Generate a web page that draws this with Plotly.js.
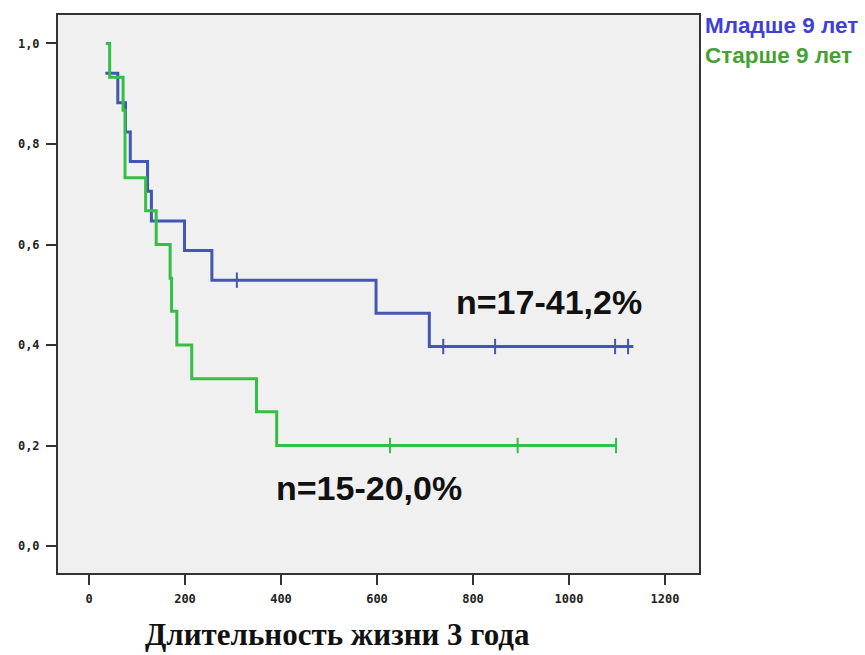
<!DOCTYPE html>
<html>
<head>
<meta charset="utf-8">
<script src="https://cdn.plot.ly/plotly-3.0.1.min.js"></script>
<style>html,body{margin:0;padding:0;background:#fff;}#chart{width:865px;height:655px;}</style>
</head>
<body>
<div id="chart"></div>
<script>
// Kaplan-Meier step data (time in days, survival fraction)
var youngName = "Младше 9 лет";
var youngTimes = [34, 60, 76, 86, 122, 130, 199, 256, 598, 709, 1134];
var youngSurv  = [0.941, 0.882, 0.824, 0.765, 0.706, 0.647, 0.588, 0.529, 0.463, 0.397, 0.397];
var youngCensored = [308, 738, 846, 1096, 1123];

var oldName = "Старше 9 лет";
var oldTimes = [35, 43, 71, 75, 118, 140, 169, 172, 183, 214, 349, 391, 1098];
var oldSurv  = [1.0, 0.933, 0.867, 0.733, 0.667, 0.6, 0.533, 0.467, 0.4, 0.333, 0.267, 0.2, 0.2];
var oldCensored = [627, 893, 1098];

var youngLabel = "n=17-41,2%";
var oldLabel = "n=15-20,0%";
var xTitle = "Длительность жизни 3 года";

var xTickVals = [0, 200, 400, 600, 800, 1000, 1200];
var xTickText = ["0", "200", "400", "600", "800", "1000", "1200"];
var yTickVals = [0, 0.2, 0.4, 0.6, 0.8, 1.0];
var yTickText = ["0,0", "0,2", "0,4", "0,6", "0,8", "1,0"];

function survAt(times, surv, t) {
  var s = surv[0];
  for (var i = 0; i < times.length; i++) { if (times[i] <= t) s = surv[i]; }
  return s;
}

var blue = "rgb(66,86,178)";
var green = "rgb(52,190,70)";

var traces = [
  {x: youngTimes, y: youngSurv, type: "scatter", mode: "lines", line: {shape: "hv", color: blue, width: 3}, name: youngName, hoverinfo: "skip"},
  {x: oldTimes, y: oldSurv, type: "scatter", mode: "lines", line: {shape: "hv", color: green, width: 3}, name: oldName, hoverinfo: "skip"},
  {x: youngCensored, y: youngCensored.map(function(t){return survAt(youngTimes, youngSurv, t);}), type: "scatter", mode: "markers",
   marker: {symbol: "line-ns", size: 11, line: {color: blue, width: 2}}, hoverinfo: "skip"},
  {x: oldCensored, y: oldCensored.map(function(t){return survAt(oldTimes, oldSurv, t);}), type: "scatter", mode: "markers",
   marker: {symbol: "line-ns", size: 11, line: {color: green, width: 2}}, hoverinfo: "skip"}
];

var tickFont = {family: "DejaVu Sans Mono", size: 12, color: "#222", weight: "bold"};

var layout = {
  width: 865, height: 655,
  margin: {l: 58, r: 166, t: 15, b: 82},
  paper_bgcolor: "#ffffff",
  plot_bgcolor: "#f0f0f0",
  showlegend: false,
  hovermode: false,
  xaxis: {
    range: [-64.6, 1270.8], tickvals: xTickVals, ticktext: xTickText,
    ticks: "outside", ticklen: 10, tickwidth: 2, tickcolor: "#333",
    showgrid: false, zeroline: false,
    showline: true, mirror: true, linecolor: "#333", linewidth: 2,
    tickfont: tickFont, ticklabelstandoff: 4
  },
  yaxis: {
    range: [-0.0537, 1.0567], tickvals: yTickVals, ticktext: yTickText,
    ticks: "outside", ticklen: 10, tickwidth: 2, tickcolor: "#333",
    showgrid: false, zeroline: false,
    showline: true, mirror: true, linecolor: "#333", linewidth: 2,
    tickfont: tickFont, ticklabelstandoff: 4
  },
  annotations: [
    {xref: "x", yref: "y", x: 958, y: 0.4856, text: youngLabel, showarrow: false,
     font: {family: "Liberation Sans", size: 34, color: "#111", weight: "bold"}},
    {xref: "x", yref: "y", x: 583, y: 0.1154, text: oldLabel, showarrow: false,
     font: {family: "Liberation Sans", size: 34, color: "#111", weight: "bold"}},
    {xref: "paper", yref: "paper", x: 1.006, y: 0.982, xanchor: "left", yanchor: "middle", text: youngName, showarrow: false,
     font: {family: "Liberation Sans", size: 22.5, color: "rgb(64,64,212)", weight: "bold"}},
    {xref: "paper", yref: "paper", x: 1.006, y: 0.928, xanchor: "left", yanchor: "middle", text: oldName, showarrow: false,
     font: {family: "Liberation Sans", size: 22.5, color: "rgb(72,160,52)", weight: "bold"}},
    {xref: "paper", yref: "paper", x: 0.4368, y: -0.1102, xanchor: "center", yanchor: "middle", text: xTitle, showarrow: false,
     borderpad: 0, font: {family: "Liberation Serif", size: 31, color: "#111", weight: "bold"}}
  ]
};

Plotly.newPlot("chart", traces, layout, {displayModeBar: false, staticPlot: true});
</script>
</body>
</html>
